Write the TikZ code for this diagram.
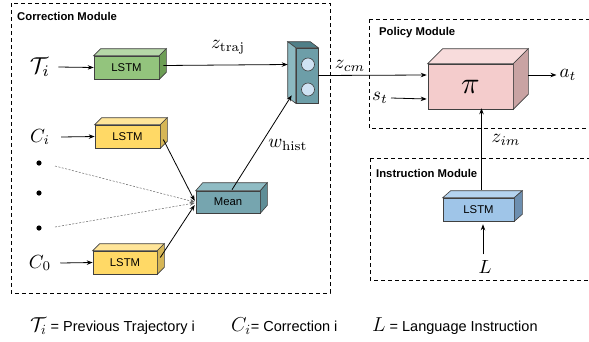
\documentclass[tikz,border=0pt]{standalone}
\usepackage{fontspec}
\setsansfont{Liberation Sans}
\usetikzlibrary{arrows.meta,calc}
\definecolor{gfront}{HTML}{93C47D}\definecolor{gtop}{HTML}{B6D7A8}\definecolor{gside}{HTML}{6D9E55}
\definecolor{yfront}{HTML}{FFD966}\definecolor{ytop}{HTML}{FFE599}\definecolor{yside}{HTML}{D6B656}
\definecolor{tfront}{HTML}{76A5AF}\definecolor{ttop}{HTML}{8FBCC4}\definecolor{tside}{HTML}{5F8E97}
\definecolor{cfront}{HTML}{6D9EA8}\definecolor{cleft}{HTML}{8CB9C1}\definecolor{ctop}{HTML}{4F7F88}
\definecolor{pfront}{HTML}{F4CCCC}\definecolor{ptop}{HTML}{F8DCDC}\definecolor{pside}{HTML}{C9A3A3}
\definecolor{bfront}{HTML}{9FC5E8}\definecolor{btop}{HTML}{B4D3EF}\definecolor{bside}{HTML}{6D8FB0}
\definecolor{circ}{HTML}{CFE2F3}
\newcommand\cubefaces[5]{%
  \filldraw[face,fill=#4] (#1.north west) -- ++(#2,#3) -- ($(#1.north east)+(#2,#3)$) -- (#1.north east) -- cycle;
  \filldraw[face,fill=#5] (#1.north east) -- ++(#2,#3) -- ($(#1.south east)+(#2,#3)$) -- (#1.south east) -- cycle;}
\newcommand\mymathbig[1]{\scalebox{1.9}{$#1$}}
\newcommand\mymathleg[1]{\scalebox{1.4}{$#1$}}
\tikzset{
  face/.style={draw=black!75, line width=0.6pt},
  cube/.style={face, inner sep=0pt, font=\sffamily\fontsize{11.3}{13}\selectfont},
  mlab/.style={inner sep=0pt},
  modbox/.style={draw=black, line width=1pt, dash pattern=on 4pt off 3pt},
  modlab/.style={inner sep=0pt, anchor=west, font=\sffamily\bfseries\fontsize{11.3}{13}\selectfont},
  arr/.style={line width=0.8pt, -{Stealth[length=6pt,width=4.5pt]}},
  darr/.style={line width=0.5pt, black!60, dash pattern=on 2pt off 1.5pt, -{Stealth[length=5pt,width=4pt]}},
  leg/.style={inner sep=0pt, anchor=west, font=\sffamily\fontsize{14.5}{17}\selectfont},
}
\begin{document}
\begin{tikzpicture}[x=1pt,y=-1pt]
\useasboundingbox (0,0) rectangle (589,341);
% module frames
\draw[modbox] (11,3) rectangle (330,293);
\draw[modbox] (369,19) -- (595,19) (369,19) -- (369,128) -- (595,128);
\draw[modbox] (370,158) -- (595,158) (370,158) -- (370,280) -- (595,280);
\node[modlab] (lcor) at (17,16) {Correction Module};
\node[modlab] (lpol) at (379,33) {Policy Module};
\node[modlab] (lins) at (376,173) {Instruction Module};
% boxes
\node[cube, fill=gfront, minimum width=65pt, minimum height=23pt] (lstmT) at (126.5,67.5) {LSTM};
\cubefaces{lstmT}{7}{-7}{gtop}{gside}
\node[cube, fill=yfront, minimum width=65pt, minimum height=23pt] (lstmC) at (127.5,136.5) {LSTM};
\cubefaces{lstmC}{7}{-7}{ytop}{yside}
\node[cube, fill=yfront, minimum width=64pt, minimum height=23pt] (lstm0) at (125,262.5) {LSTM};
\cubefaces{lstm0}{7}{-7}{ytop}{yside}
\node[cube, fill=tfront, minimum width=64pt, minimum height=22pt] (mean) at (228,202) {Mean};
\cubefaces{mean}{7}{-8}{ttop}{tside}
\node[cube, fill=cfront, minimum width=22pt, minimum height=55pt] (cat) at (307,75.5) {};
\filldraw[face,fill=ctop] (cat.north west) -- ++(-8,-6) -- ($(cat.north east)+(-8,-6)$) -- (cat.north east) -- cycle;
\filldraw[face,fill=cleft] (cat.north west) -- ++(-8,-6) -- ($(cat.south west)+(-8,-6)$) -- (cat.south west) -- cycle;
\node[face, circle, fill=circ, minimum size=13pt, inner sep=0pt] (c1) at (308,64.5) {};
\node[face, circle, fill=circ, minimum size=13pt, inner sep=0pt] (c2) at (308,89.5) {};
\node[cube, fill=pfront, minimum width=85pt, minimum height=45pt] (pi) at (470.5,86.5) {\scalebox{2.8}{$\pi$}};
\cubefaces{pi}{15}{-15}{ptop}{pside}
\node[cube, fill=bfront, minimum width=71pt, minimum height=23pt] (lstmL) at (478.5,209.5) {LSTM};
\cubefaces{lstmL}{8}{-7}{btop}{bside}
% input labels
\node[mlab] (tau) at (40,67) {\scalebox{2.3}{$\mathcal{T}_i$}};
\node[mlab] (ci) at (40,137) {\mymathbig{C_i}};
\node[mlab] (c0) at (40,263) {\mymathbig{C_0}};
\fill (39,163) circle (2.6pt) (39,193) circle (2.6pt) (39,228) circle (2.6pt);
\coordinate (d1) at (55,166);
\coordinate (d2) at (55,227);
\node[mlab] (L) at (485,267) {\mymathbig{L}};
\node[mlab] (st) at (380,98) {\mymathbig{s_t}};
\node[mlab] (at) at (568,75) {\mymathbig{a_t}};
\node[mlab] (ztraj) at (228,47) {\mymathbig{z_{\mathrm{traj}}}};
\node[mlab] (zcm) at (350,66) {\mymathbig{z_{cm}}};
\node[mlab] (whist) at (288,145) {\mymathbig{w_{\mathrm{hist}}}};
\node[mlab] (zim) at (506,140) {\mymathbig{z_{im}}};
% connectors
\draw[arr] (tau.east) ++(8,0) -- (lstmT.west);
\draw[arr] (ci.east) ++(11,0) -- (lstmC.west);
\draw[arr] (c0.east) ++(9,0) -- (lstm0.west);
\draw[arr] ($(lstmT.east)+(4,-2)$) -- ($(cat.west)+(-8,-11)$);
\draw[arr] ($(lstmC.east)+(3,3)$) -- ($(mean.west)+(-1,-1)$);
\draw[arr] ($(lstm0.east)+(3,-5)$) -- ($(mean.west)+(-1,3)$);
\draw[darr] (d1) -- ($(mean.west)+(-1,0)$);
\draw[darr] (d2) -- ($(mean.west)+(-1,1)$);
\draw[arr] ($(mean.north)+(4,-1)$) -- ($(cat.south west)+(-4,-8)$);
\draw[arr] (cat.east) -- ($(pi.west)+(-1,-11.5)$);
\draw[arr] (st.east) ++(3,0) -- ($(pi.west)+(-1,12.5)$);
\draw[arr] ($(pi.east)+(15,-11.5)$) -- ($(at.west)+(-3,0)$);
\draw[arr] ($(lstmL.north)+(3,-8)$) -- ($(pi.south)+(11,-1)$);
\draw[arr] ($(L.north)+(-2,-6)$) -- ($(lstmL.south)+(4.5,3)$);
% legend
\node[leg] (leg1) at (30,326) {\mymathleg{\mathcal{T}_i} = Previous Trajectory i};
\node[leg] (leg2) at (231,326) {\mymathleg{C_i}= Correction i};
\node[leg] (leg3) at (372,326) {\mymathleg{L} = Language Instruction};
\end{tikzpicture}
\end{document}
